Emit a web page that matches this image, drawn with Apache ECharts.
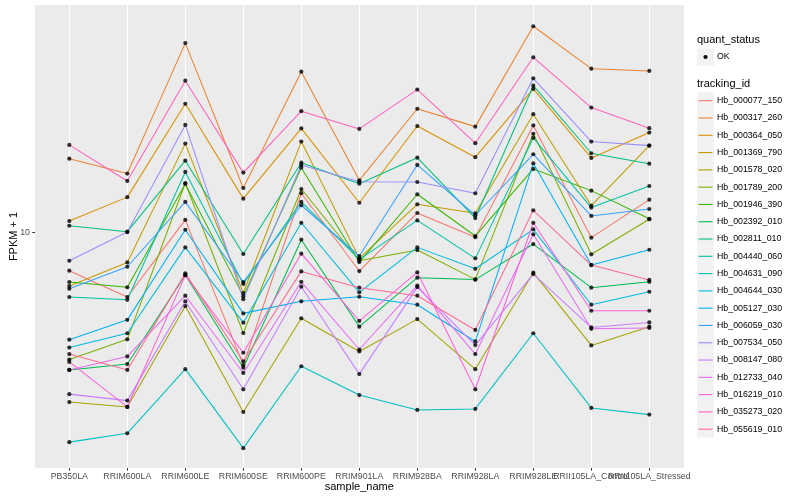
<!DOCTYPE html>
<html><head><meta charset="utf-8">
<script src="https://cdn.jsdelivr.net/npm/echarts@6/dist/echarts.min.js"></script>
<style>html,body{margin:0;padding:0;background:#fff}#c{width:800px;height:500px}</style>
</head><body><div id="c"></div>
<script>
const categories = ['PB350LA','RRIM600LA','RRIM600LE','RRIM600SE','RRIM600PE','RRIM901LA','RRIM928BA','RRIM928LA','RRIM928LE','RRII105LA_Control','RRII105LA_Stressed'];
const trackingIds = ['Hb_000077_150','Hb_000317_260','Hb_000364_050','Hb_001369_790','Hb_001578_020','Hb_001789_200','Hb_001946_390','Hb_002392_010','Hb_002811_010','Hb_004440_060','Hb_004631_090','Hb_004644_030','Hb_005127_030','Hb_006059_030','Hb_007534_050','Hb_008147_080','Hb_012733_040','Hb_016219_010','Hb_035273_020','Hb_055619_010'];
const quantStatus = ['OK'];
const yTicks = [10];

// FPKM + 1 per sample, in category order
const v_000077_150 = [7.45, 6.09, 11.0, 3.61, 13.5, 7.43, 11.6, 9.63, 22.7, 9.60, 12.85];
const v_000317_260 = [17.6, 15.7, 42.7, 14.05, 34.3, 14.9, 25.8, 22.5, 48.6, 35.1, 34.5];
const v_000364_050 = [10.9, 13.1, 26.8, 12.95, 22.2, 12.55, 22.6, 17.8, 30.05, 17.7, 21.5];
const v_001369_790 = [6.62, 7.94, 19.75, 6.28, 20.06, 8.19, 12.4, 11.57, 24.75, 12.27, 19.45];
const v_001578_020 = [2.72, 2.62, 5.68, 2.52, 5.17, 4.01, 5.14, 3.5, 7.34, 4.2, 4.85];
const v_001789_200 = [3.77, 4.4, 14.6, 4.62, 13.94, 8.04, 8.73, 6.97, 21.3, 8.45, 11.05];
const v_001946_390 = [6.83, 6.56, 14.5, 6.13, 16.42, 7.96, 13.39, 9.72, 16.26, 13.77, 11.1];
const v_002392_010 = [3.48, 3.64, 7.21, 3.54, 9.45, 4.85, 7.06, 6.96, 9.14, 6.54, 6.84];
const v_002811_010 = [10.52, 10.05, 17.33, 8.47, 17.06, 14.52, 17.73, 11.16, 30.8, 18.34, 16.93];
const v_004440_060 = [6.09, 5.96, 15.89, 6.73, 12.63, 8.13, 10.96, 8.19, 20.63, 12.09, 14.27];
const v_004631_090 = [2.0, 2.14, 3.5, 1.91, 3.58, 2.87, 2.56, 2.58, 4.61, 2.6, 2.47];
const v_004644_030 = [4.13, 4.61, 8.91, 5.0, 10.76, 6.31, 8.91, 7.56, 10.23, 5.74, 6.34];
const v_005127_030 = [4.39, 5.11, 10.2, 5.37, 5.89, 6.1, 5.74, 4.33, 16.98, 7.78, 8.75];
const v_006059_030 = [6.49, 7.68, 12.63, 6.83, 12.31, 8.34, 16.77, 11.4, 18.2, 11.34, 11.96];
const v_007534_050 = [8.04, 10.02, 22.8, 5.99, 16.77, 14.75, 14.71, 13.49, 32.6, 20.06, 19.45];
const v_008147_080 = [2.89, 2.75, 5.89, 3.0, 6.59, 3.37, 6.57, 4.21, 7.26, 4.82, 5.01];
const v_012733_040 = [3.48, 3.86, 6.15, 3.4, 6.84, 4.07, 6.64, 3.93, 9.85, 4.77, 4.8];
const v_016219_010 = [3.7, 2.62, 7.19, 3.97, 8.49, 5.07, 7.36, 3.0, 10.76, 5.48, 5.48];
const v_035273_020 = [19.56, 14.83, 32.0, 15.81, 25.33, 22.11, 29.89, 19.81, 38.3, 26.04, 22.23];
const v_055619_010 = [3.93, 3.48, 7.3, 3.72, 7.41, 6.54, 6.15, 4.73, 11.84, 7.78, 6.94];

const seriesValues = [v_000077_150, v_000317_260, v_000364_050, v_001369_790, v_001578_020, v_001789_200, v_001946_390, v_002392_010, v_002811_010, v_004440_060, v_004631_090, v_004644_030, v_005127_030, v_006059_030, v_007534_050, v_008147_080, v_012733_040, v_016219_010, v_035273_020, v_055619_010];

const palette = ['#F8766D','#EA8331','#D89000','#C09B00','#A3A500','#7CAE00','#39B600','#00BB4E','#00BF7D','#00C1A3','#00BFC4','#00BAE0','#00B0F6','#35A2FF','#9590FF','#C77CFF','#E76BF3','#FA62DB','#FF62BC','#FF6C91'];

const FONT = '"Liberation Sans", Arial, Helvetica, sans-serif';
const Y_MIN = 1.64, Y_MAX = 57.2;
const chart = echarts.init(document.getElementById('c'));

const lineSeries = seriesValues.map((vals, i) => ({
  type: 'line', name: trackingIds[i], data: vals, symbol: 'none', showSymbol: false,
  xAxisIndex: 1, yAxisIndex: 1,
  lineStyle: { color: palette[i], width: 1.05 }, itemStyle: { color: palette[i] },
  z: 2, silent: true, animation: false
}));
const pointSeries = seriesValues.map((vals, i) => ({
  type: 'scatter', name: trackingIds[i] + '_pts', data: vals, symbol: 'circle', symbolSize: 4.2,
  xAxisIndex: 1, yAxisIndex: 1,
  itemStyle: { color: '#000' }, z: 3, silent: true, animation: false
}));

// Legend (ggplot style) built from the names and palette
const LX = 697, KEY = 17, STEP = 17.29, Y0 = 92.2;
const graphics = [];
graphics.push({ type: 'text', left: LX, top: 34, style: { text: 'quant_status', font: '11px ' + FONT, fill: '#000' } });
graphics.push({ type: 'rect', shape: { x: LX, y: 48.5, width: KEY, height: KEY }, style: { fill: '#F2F2F2' } });
graphics.push({ type: 'circle', shape: { cx: LX + 8.5, cy: 57, r: 2.1 }, style: { fill: '#000' } });
graphics.push({ type: 'text', x: LX + 20, y: 57, style: { text: quantStatus[0], font: '8.8px ' + FONT, fill: '#000', verticalAlign: 'middle' } });
graphics.push({ type: 'text', left: LX, top: 78, style: { text: 'tracking_id', font: '11px ' + FONT, fill: '#000' } });
trackingIds.forEach((name, i) => {
  const y = Y0 + STEP * i;
  graphics.push({ type: 'rect', shape: { x: LX, y: y, width: KEY, height: KEY }, style: { fill: '#F2F2F2' } });
  graphics.push({ type: 'line', shape: { x1: LX + 1.5, y1: y + KEY / 2, x2: LX + KEY - 1.5, y2: y + KEY / 2 }, style: { stroke: palette[i], lineWidth: 1.1 } });
  graphics.push({ type: 'text', x: LX + 20, y: y + KEY / 2, style: { text: name, font: '8.8px ' + FONT, fill: '#000', verticalAlign: 'middle' } });
});

chart.setOption({
  animation: false,
  backgroundColor: '#fff',
  grid: [
    // full panel (ggplot expands the discrete axis by 0.6 of a step on each side)
    { left: 35, right: 116, top: 5, bottom: 32, show: true, backgroundColor: '#EBEBEB', borderWidth: 0, outerBoundsMode: 'none', containLabel: false },
    // data area: half-band padding inside the panel
    { left: 40.3, right: 121.7, top: 5, bottom: 32, show: false, outerBoundsMode: 'none', containLabel: false }
  ],
  xAxis: [
    { type: 'value', gridIndex: 0, min: 0, max: 1, show: false },
    {
      type: 'category', gridIndex: 1, data: categories, boundaryGap: true,
      name: 'sample_name', nameLocation: 'middle', nameGap: 13, nameMoveOverlap: false,
      nameTextStyle: { fontFamily: FONT, fontSize: 11, color: '#000' },
      axisLine: { show: false },
      axisTick: { show: true, alignWithLabel: true, interval: 0, length: 2.7, lineStyle: { color: '#333', width: 1 } },
      axisLabel: { interval: 0, margin: 4, fontFamily: FONT, fontSize: 8.8, color: '#4D4D4D', hideOverlap: false },
      splitLine: { show: true, alignWithLabel: true, interval: 0, lineStyle: { color: '#FFFFFF', width: 1.1 } }
    }
  ],
  yAxis: [
    {
      type: 'log', gridIndex: 0, logBase: 10, min: Y_MIN, max: Y_MAX,
      name: 'FPKM + 1', nameLocation: 'middle', nameGap: 16, nameMoveOverlap: false,
      nameTextStyle: { fontFamily: FONT, fontSize: 11, color: '#000' },
      axisLine: { show: false },
      axisTick: { show: true, length: 2.7, customValues: yTicks, lineStyle: { color: '#333', width: 1 } },
      axisLabel: { margin: 5, fontFamily: FONT, fontSize: 8.8, color: '#4D4D4D', customValues: yTicks,
        formatter: v => (Math.abs(v - 10) < 1e-6 ? '10' : '') },
      splitLine: { show: true, showMinLine: false, showMaxLine: false, lineStyle: { color: '#FFFFFF', width: 1.1 } }
    },
    { type: 'log', gridIndex: 1, logBase: 10, min: Y_MIN, max: Y_MAX, show: false, splitLine: { show: false } }
  ],
  series: lineSeries.concat(pointSeries),
  graphic: graphics
});
</script>
</body></html>
